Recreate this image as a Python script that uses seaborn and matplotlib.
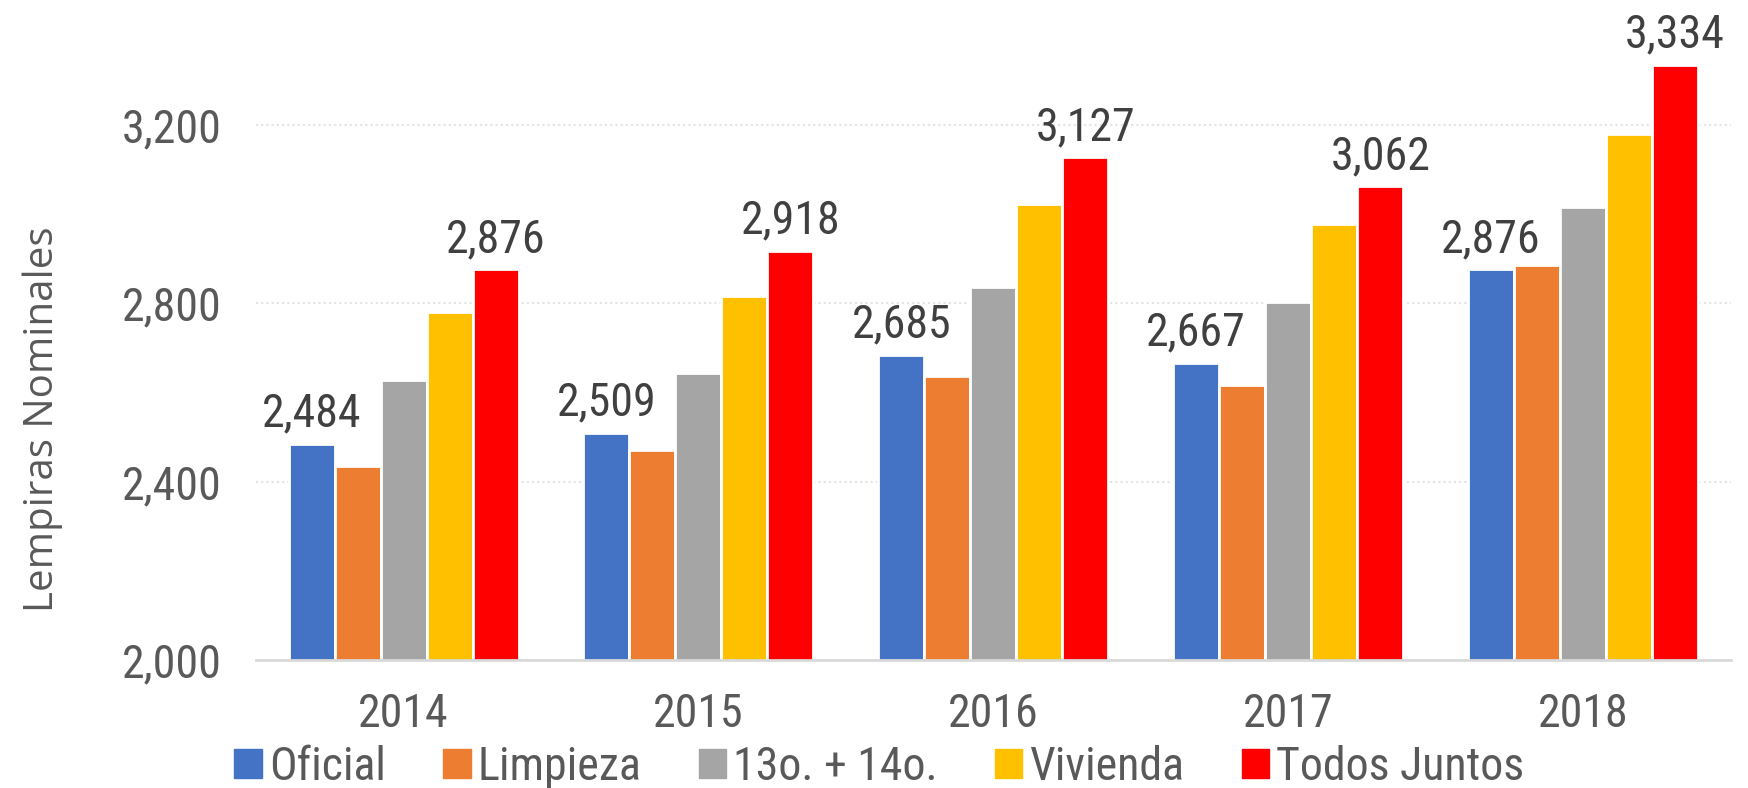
import matplotlib
matplotlib.use("Agg")
import matplotlib.pyplot as plt
import matplotlib.patches as mpatches
from matplotlib import font_manager
import seaborn as sns
import pandas as pd

years = ["2014", "2015", "2016", "2017", "2018"]
series = ["Oficial", "Limpieza", "13o. + 14o.", "Vivienda", "Todos Juntos"]
oficial = [2484, 2509, 2685, 2667, 2876]
limpieza = [2434, 2471, 2637, 2616, 2886]
decimos = [2628, 2644, 2837, 2802, 3016]
vivienda = [2781, 2817, 3022, 2978, 3179]
todos = [2876, 2918, 3127, 3062, 3334]
colors = ["#4472C4", "#ED7D31", "#A5A5A5", "#FFC000", "#FF0000"]
labelled = ["Oficial", "Todos Juntos"]

values = [oficial, limpieza, decimos, vivienda, todos]
rows = []
for s, vals in zip(series, values):
    for y, v in zip(years, vals):
        rows.append({"Año": y, "Serie": s, "Valor": v})
df = pd.DataFrame(rows)

sns.set_theme(style="white")
names = {f.name for f in font_manager.fontManager.ttflist}
narrow = "Roboto"
for cand in ["Roboto Condensed", "Liberation Sans Narrow", "Open Sans Condensed"]:
    if cand in names:
        narrow = cand
        break
size = 33 if narrow != "Roboto" else 29
plt.rcParams["font.family"] = [narrow, "DejaVu Sans"]

fig = plt.figure(figsize=(17.48, 7.88), dpi=100)
ax = fig.add_axes([0.1465, 0.1624, 0.8435, 0.7923])

sns.barplot(data=df, x="Año", y="Valor", hue="Serie", hue_order=series,
            order=years, palette=colors, width=0.78, edgecolor="white",
            linewidth=2, saturation=1, legend=False, ax=ax)

ax.set_ylim(2000, 3400)
ax.set_yticks([2000, 2400, 2800, 3200])
ax.set_yticklabels([f"{t:,}" for t in [2000, 2400, 2800, 3200]])
ax.set_xlim(-0.5, len(years) - 0.5)
ax.set_xlabel("")
ax.set_ylabel("Lempiras Nominales", fontsize=29, color="#595959",
              family=["Open Sans", "DejaVu Sans"])
ax.yaxis.set_label_coords(-0.131, 0.386)

for sp in ["top", "right", "left"]:
    ax.spines[sp].set_visible(False)
ax.spines["bottom"].set_color("#D9D9D9")
ax.spines["bottom"].set_linewidth(2)
ax.grid(axis="y", color="#E3E3E3", linestyle=(0, (1, 1.5)), linewidth=1.5)
ax.set_axisbelow(True)
ax.tick_params(axis="both", length=0, labelsize=size, labelcolor="#595959")
ax.tick_params(axis="x", pad=23)
ax.tick_params(axis="y", pad=25)

for idx, s in enumerate(series):
    if s in labelled:
        ax.bar_label(ax.containers[idx], labels=[f"{v:,}" for v in values[idx]],
                     padding=6, fontsize=size, color="#404040", clip_on=False)

handles = [mpatches.Patch(color=c, label=s) for c, s in zip(colors, series)]
fig.legend(handles=handles, loc="center", bbox_to_anchor=(0.503, 0.027),
           ncol=5, frameon=False, fontsize=size, handlelength=0.6,
           handleheight=0.6, handletextpad=0.15, columnspacing=1.25,
           labelcolor="#595959")

fig.savefig("out.png", dpi=100)
